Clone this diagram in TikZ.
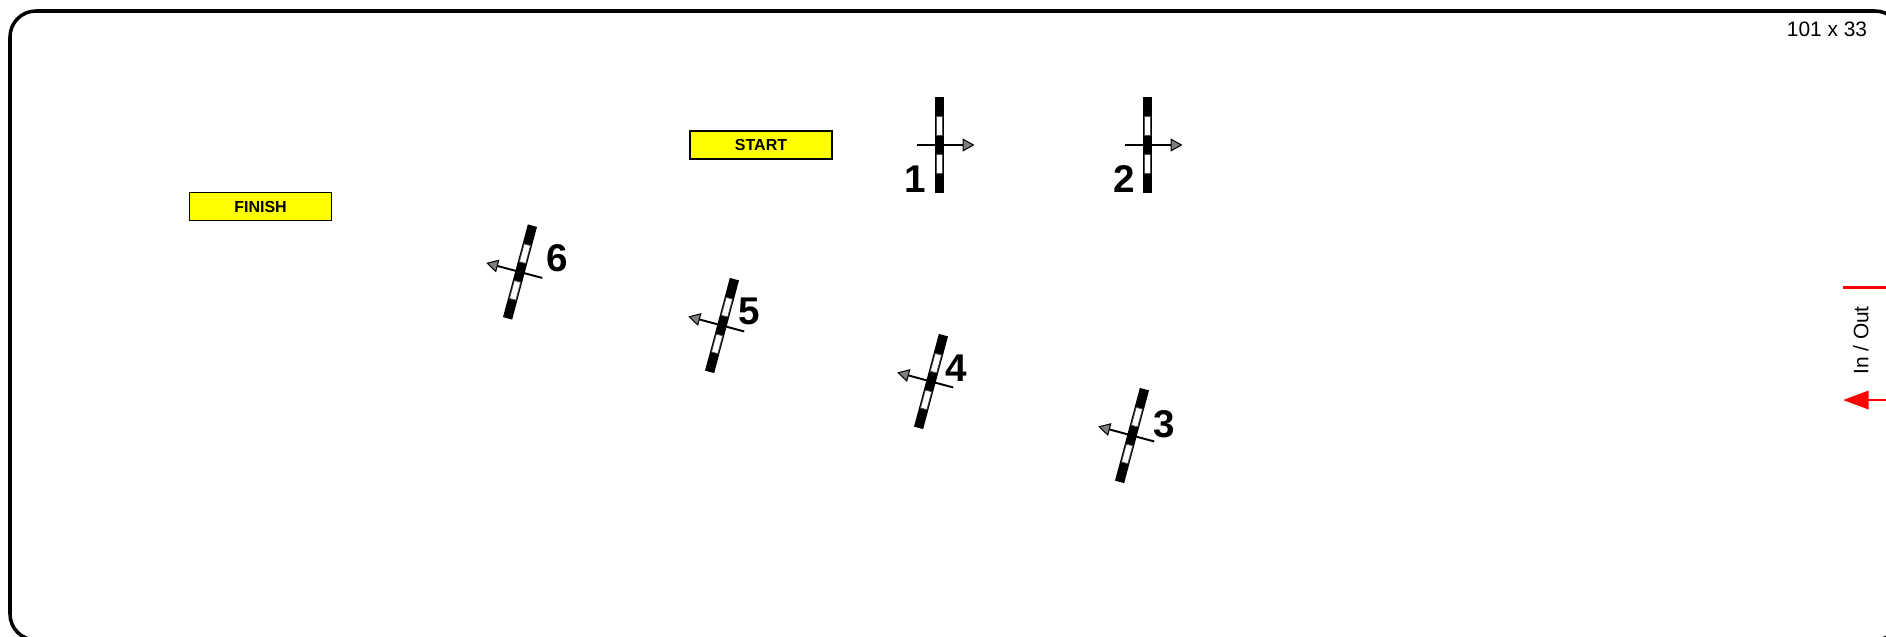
\documentclass[tikz,border=0pt]{standalone}
\usepackage{fontspec}
\setmainfont{Liberation Sans}
\usetikzlibrary{arrows.meta}
\definecolor{signyellow}{RGB}{255,255,0}
\definecolor{headgray}{RGB}{128,128,128}
\definecolor{inoutred}{RGB}{255,0,0}
\tikzset{
  frame/.style={draw=black,line width=2pt,rounded corners=0.52cm},
  sign/.style={draw=black,fill=signyellow,line width=1.1pt,minimum width=2.84cm,minimum height=0.56cm,inner sep=0pt,font=\fontsize{9.1}{9.1}\selectfont\bfseries},
  gatebar/.style={fill=black,minimum width=0.19cm,minimum height=1.92cm,inner sep=0pt,transform shape},
  gatepane/.style={fill=white,draw=black!70,line width=0.4pt,minimum width=0.13cm,minimum height=0.37cm,inner sep=0pt,transform shape},
  gatearrow/.style={line width=1.1pt,-{Triangle[length=6.8pt,width=7.4pt,fill=headgray,line width=0.6pt]}},
  gatelab/.style={inner sep=0pt,font=\fontsize{22}{22}\selectfont\bfseries},
  marktext/.style={inner sep=0pt,font=\fontsize{11.9}{12}\selectfont},
  inout/.style={inoutred,line width=1.2pt},
  inoutarrow/.style={inout,-{Triangle[length=14.5pt,width=10.5pt]},shorten >=-0.5pt}
}
\begin{document}
\begin{tikzpicture}[x=0.02cm,y=-0.02cm]
    \clip (0,0) rectangle (1886,636);
    \draw[frame] (10,11) rectangle (1901,640);
    \node[sign] (start) at (761,145) {START};
    \node[sign] (finish) at (260.5,206.5) {FINISH};
    \foreach \i/\x/\y/\a/\lx/\ly in {1/939.5/145/0/915/179,2/1147.5/145/0/1124/179,3/1132/435.5/165/1164/424,4/931/381.5/165/956/368,5/722/325.5/165/749/311,6/520/272/165/557/258}{
      \begin{scope}[shift={(\x,\y)},rotate=\a]
        \node[gatebar] (G\i) at (0,0) {};
        \node[gatepane] (Pa\i) at (0,-19) {};
        \node[gatepane] (Pb\i) at (0,19) {};
        \coordinate (T\i) at (-23,0);
        \coordinate (H\i) at (35,0);
        \draw[gatearrow] (T\i)--(H\i);
      \end{scope}
      \node[gatelab] (L\i) at (\lx,\ly) {\i};}
    \node[marktext] (size) at (1827,29) {101 x 33};
    \node[marktext,rotate=90] (inout) at (1861,340.5) {In / Out};
    \coordinate (Ra) at (1843,287.5);
    \coordinate (Rb) at (1886,287.5);
    \coordinate (Rc) at (1886,400);
    \coordinate (Rd) at (1844,400);
    \draw[inout] (Ra)--(Rb);
    \draw[inoutarrow] (Rc)--(Rd);
  \end{tikzpicture}
\end{document}
